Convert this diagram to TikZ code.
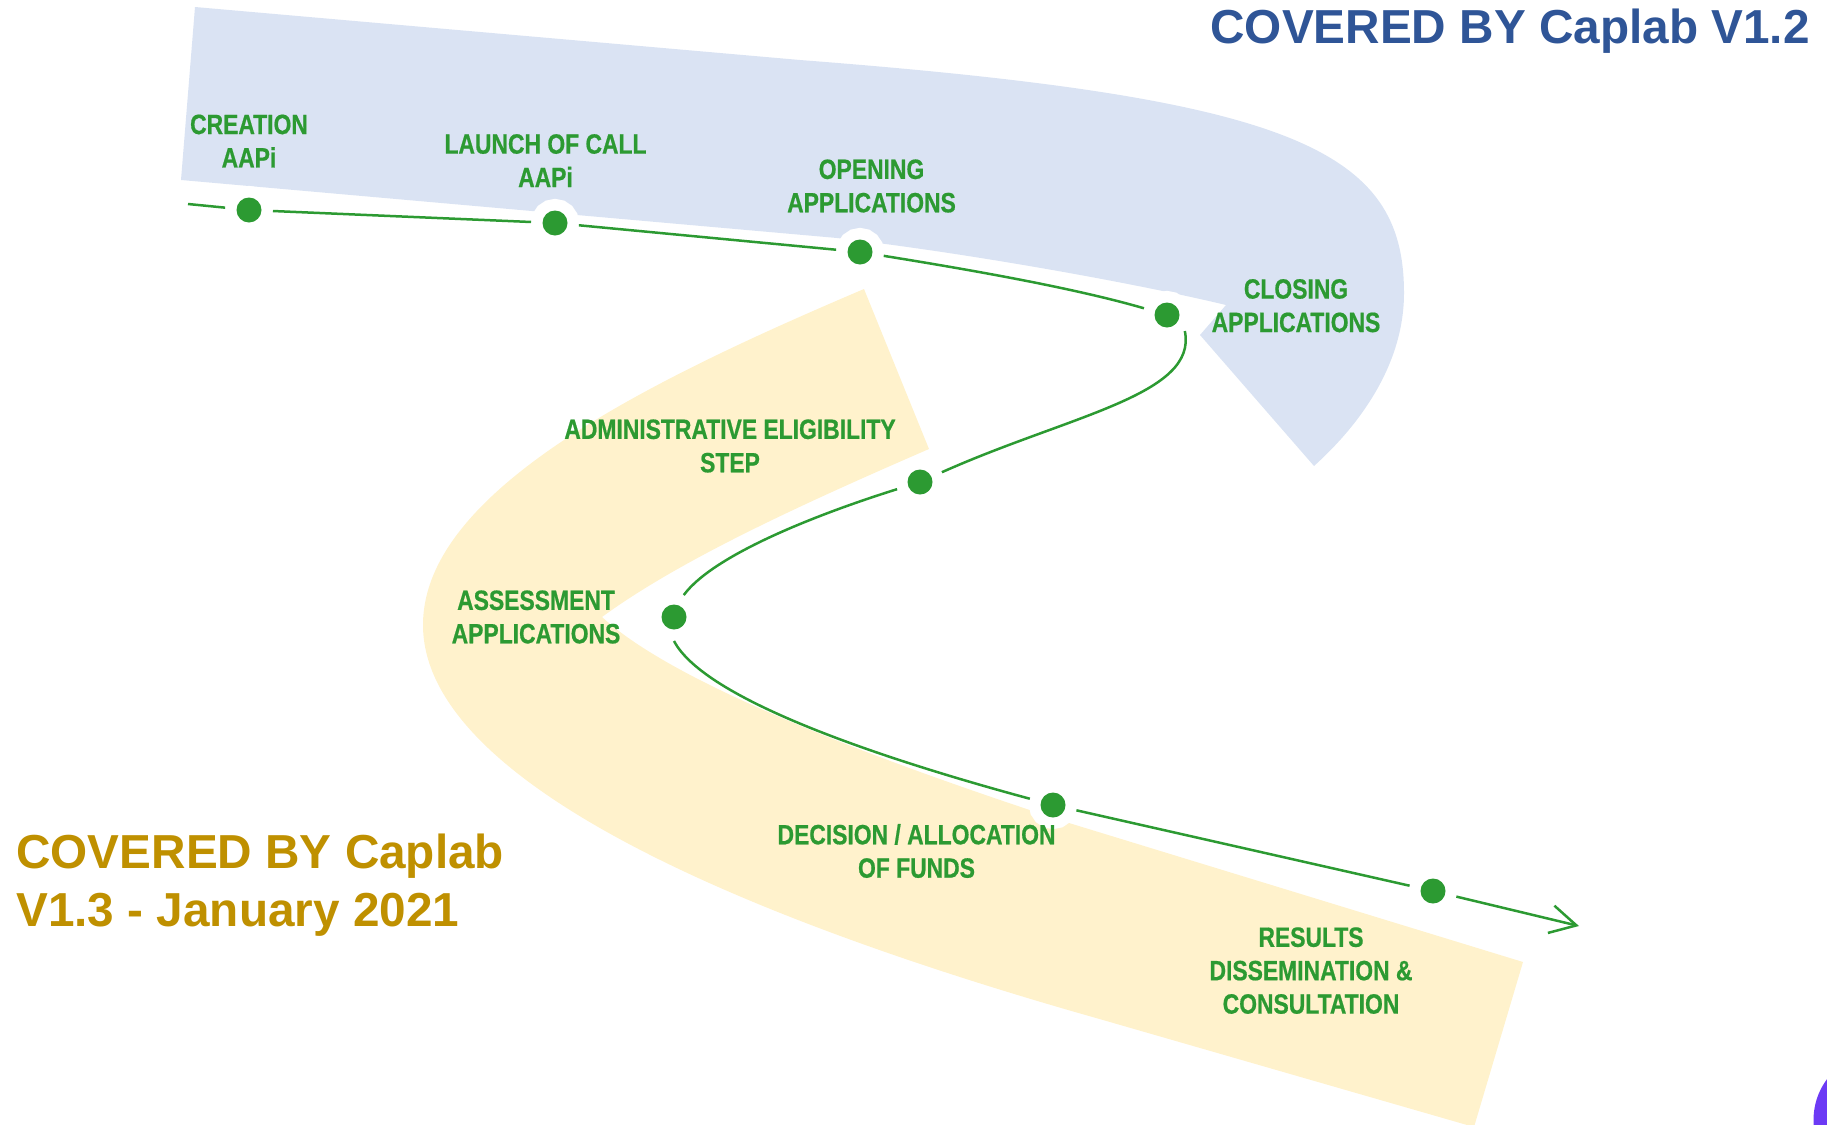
\documentclass[tikz,border=0pt]{standalone}
\usepackage{fontspec}
\setmainfont{Liberation Sans}
\newfontfamily\stepfont[FakeStretch=0.82,FakeBold=0.6]{Liberation Sans}
\usetikzlibrary{arrows.meta}

\definecolor{bandblue}{RGB}{218,227,243}
\definecolor{bandyellow}{RGB}{255,242,204}
\definecolor{stepgreen}{RGB}{44,154,50}
\definecolor{titleblue}{RGB}{47,85,151}
\definecolor{titlegold}{RGB}{191,144,0}
\definecolor{cornerpurple}{RGB}{108,58,245}

\begin{document}
\begin{tikzpicture}[x=0.5pt,y=-0.5pt,
  dot/.style={circle, fill=stepgreen, inner sep=0pt, minimum size=12.5pt,
    outer sep=5.75pt, preaction={draw=white, line width=11.5pt}},
  steplabel/.style={text=stepgreen, align=center, inner sep=0pt,
    font=\stepfont\bfseries\fontsize{13.95pt}{16.7pt}\selectfont},
  covered/.style={inner sep=0pt, font=\bfseries\fontsize{23.85pt}{29pt}\selectfont},
  route/.style={draw=stepgreen, line width=1.25pt}]
\useasboundingbox (0,0) rectangle (1827,1125);
\clip (0,0) rectangle (1827,1125);

% bands
\fill[bandblue] (195,7) -- (800,60) .. controls (1295,98) and (1404,150) .. (1404,293)
  .. controls (1404,360) and (1365,420) .. (1314,466) -- (1200,335) -- (1226,305)
  .. controls (1130,282) and (960,252) .. (837,238) -- (181,180) -- cycle;
\fill[bandyellow] (864,289) -- (929,449) .. controls (800,505) and (680,560) .. (602,617)
  .. controls (660,670) and (800,735) .. (1069,823) -- (1523,962) -- (1474,1127) -- (1103,1020)
  .. controls (660,895) and (423,760) .. (423,625)
  .. controls (423,490) and (650,380) .. (864,289) -- cycle;
\fill[cornerpurple] (1882,1120) circle[radius=68.5];

% steps
\foreach \n/\x/\y in {creation/249/210, launch/555/223, opening/860/252,
  closing/1167/315, eligibility/920/482, assessment/674/617,
  decision/1053/805, results/1433/891}
  \node[dot] (\n) at (\x,\y) {};

\coordinate (start) at (188,204);
\coordinate (finish) at (1579,926);
\draw[route] (start) -- (creation);
\draw[route] (creation) -- (launch);
\draw[route] (launch) -- (opening);
\draw[route] (opening) .. controls (959,268) and (1071,287) .. (closing);
\draw[route] (closing.-42) .. controls (1198,395) and (1070,415) .. (eligibility);
\draw[route] (eligibility) .. controls (821,513) and (714,554) .. (assessment.66);
\draw[route] (assessment.south) .. controls (705,700) and (883,759) .. (decision);
\draw[route] (decision) -- (results);
\draw[route, -{Straight Barb[length=13pt,width=14pt]}] (results) -- (finish);

\node[steplabel] (creationtext) at (249,141) {CREATION\\AAPi};
\node[steplabel] (launchtext) at (545.5,160.6) {LAUNCH OF CALL\\AAPi};
\node[steplabel] (openingtext) at (871.5,186) {OPENING\\APPLICATIONS};
\node[steplabel] (closingtext) at (1296,305.7) {CLOSING\\APPLICATIONS};
\node[steplabel] (eligibilitytext) at (730,446) {ADMINISTRATIVE ELIGIBILITY\\STEP};
\node[steplabel] (assessmenttext) at (536,617) {ASSESSMENT\\APPLICATIONS};
\node[steplabel] (decisiontext) at (916.5,851) {DECISION / ALLOCATION\\OF FUNDS};
\node[steplabel] (resultstext) at (1311,970.6) {RESULTS\\DISSEMINATION \&\\CONSULTATION};

% versions
\node[covered, text=titleblue, anchor=base east] (coveredtop) at (1810,43.5) {COVERED BY Caplab V1.2};
\node[covered, text=titlegold, anchor=west, align=left] (coveredbottom) at (16,885.5)
  {COVERED BY Caplab\\V1.3 - January 2021};
\end{tikzpicture}
\end{document}
